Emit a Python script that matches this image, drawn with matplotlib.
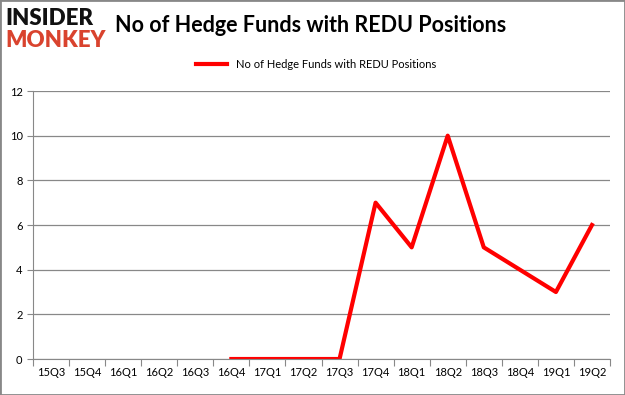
import numpy as np
import matplotlib.pyplot as plt
from matplotlib.patches import Rectangle

plt.rcParams['font.family'] = ['Lato', 'DejaVu Sans']

# Data
quarters = ['15Q3', '15Q4', '16Q1', '16Q2', '16Q3', '16Q4', '17Q1', '17Q2',
            '17Q3', '17Q4', '18Q1', '18Q2', '18Q3', '18Q4', '19Q1', '19Q2']
funds = [np.nan, np.nan, np.nan, np.nan, np.nan, 0, 0, 0,
         0, 7, 5, 10, 5, 4, 3, 6]

fig = plt.figure(figsize=(6.25, 3.95), dpi=100)
ax = fig.add_axes([0.0528, 0.0911, 0.9232, 0.6785])

x = np.arange(len(quarters))
ax.plot(x, funds, color='#ff0000', linewidth=3, label='No of Hedge Funds with REDU Positions')

ax.set_xlim(-0.5, len(quarters) - 0.5)
ax.set_ylim(0, 12)
ax.set_yticks(range(0, 13, 2))
ax.set_xticks(np.arange(-0.5, len(quarters), 1))
ax.set_xticklabels([])
ax.set_xticks(x, minor=True)
ax.set_xticklabels(quarters, minor=True)
ax.tick_params(axis='x', which='major', length=5, color='#888888', direction='out')
ax.tick_params(axis='x', which='minor', length=0, labelsize=8, pad=6)
ax.tick_params(axis='y', length=4, color='#888888', labelsize=8)
ax.grid(axis='y', color='#888888', linewidth=0.9)
ax.set_axisbelow(True)
for s in ['top', 'right']:
    ax.spines[s].set_visible(False)
for s in ['left', 'bottom']:
    ax.spines[s].set_color('#888888')

ax.legend(loc='lower center', bbox_to_anchor=(0.49, 1.04), frameon=False,
          fontsize=8, handlelength=2.8)

fig.text(0.184, 0.935, 'No of Hedge Funds with REDU Positions', fontsize=15.5,
         fontweight='bold', va='center', ha='left')

# logo
fig.text(0.008, 0.953, 'INSIDER', fontsize=16, fontweight='heavy', color='#111111',
         va='center', ha='left')
fig.text(0.008, 0.898, 'MONKEY', fontsize=16, fontweight='heavy', color='#d9432e',
         va='center', ha='left')

fig.patches.append(Rectangle((0, 0), 1, 1, transform=fig.transFigure, fill=False,
                             edgecolor='#888888', linewidth=2))

fig.savefig('out.png', dpi=100)
